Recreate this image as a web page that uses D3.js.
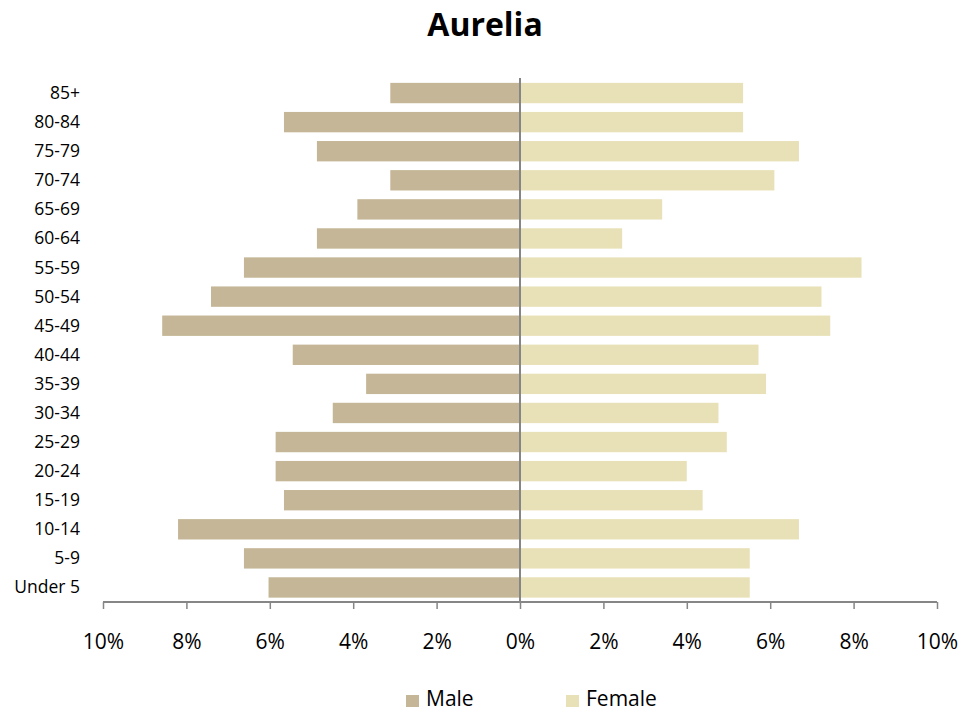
<!DOCTYPE html>
<html>
<head>
<meta charset="utf-8">
<script src="https://cdn.jsdelivr.net/npm/d3@7"></script>
<style>
  html, body { margin: 0; padding: 0; background: #fff; }
  svg { display: block; }
  text { font-family: "Open Sans", "DejaVu Sans", sans-serif; fill: #000; }
</style>
</head>
<body>
<svg id="chart" width="979" height="713"></svg>
<script>
const title = "Aurelia";
const categories = ["Under 5","5-9","10-14","15-19","20-24","25-29","30-34","35-39","40-44","45-49","50-54","55-59","60-64","65-69","70-74","75-79","80-84","85+"];
const maleValues   = [6.03, 6.62, 8.20, 5.66, 5.86, 5.86, 4.49, 3.69, 5.45, 8.58, 7.41, 6.62, 4.87, 3.90, 3.11, 4.87, 5.66, 3.11];
const femaleValues = [5.51, 5.51, 6.69, 4.38, 4.00, 4.96, 4.76, 5.90, 5.72, 7.44, 7.23, 8.19, 2.45, 3.41, 6.10, 6.69, 5.35, 5.35];
const xTicks = [-10, -8, -6, -4, -2, 0, 2, 4, 6, 8, 10];
const seriesNames = ["Male", "Female"];
const seriesColors = ["#C4B696", "#E8E1B8"];

const svg = d3.select("#chart");

const x = d3.scaleLinear().domain([-10, 10]).range([103, 937]);
const y = d3.scaleBand().domain(categories.slice().reverse()).range([78.5, 602]).paddingInner(0.3).paddingOuter(0.15);

// Title
svg.append("text")
  .attr("x", 485).attr("y", 36)
  .attr("text-anchor", "middle")
  .style("font-size", "32px").style("font-weight", "bold")
  .text(title);

// Bars
const rows = categories.map((c, i) => ({cat: c, m: maleValues[i], f: femaleValues[i]}));
svg.append("g").selectAll("rect").data(rows).join("rect")
  .attr("x", d => x(-d.m)).attr("width", d => x(0) - x(-d.m))
  .attr("y", d => y(d.cat)).attr("height", y.bandwidth())
  .attr("fill", seriesColors[0]);
svg.append("g").selectAll("rect").data(rows).join("rect")
  .attr("x", x(0)).attr("width", d => x(d.f) - x(0))
  .attr("y", d => y(d.cat)).attr("height", y.bandwidth())
  .attr("fill", seriesColors[1]);

// Category labels
svg.append("g").selectAll("text").data(categories).join("text")
  .attr("x", 80).attr("y", d => y(d) + y.bandwidth() / 2 + 6)
  .attr("text-anchor", "end")
  .style("font-size", "17.5px")
  .text(d => d);

// Center line
svg.append("line")
  .attr("x1", x(0)).attr("x2", x(0)).attr("y1", 78).attr("y2", 602)
  .attr("stroke", "#868686").attr("stroke-width", 2);

// X axis
const xAxis = d3.axisBottom(x).tickValues(xTicks).tickSize(7).tickFormat(d => Math.abs(d) + "%");
const gx = svg.append("g").attr("transform", "translate(0,602)").call(xAxis);
gx.select(".domain").attr("stroke", "#868686").attr("stroke-width", 2).attr("d", `M${x(-10)},0H${x(10)}`);
gx.selectAll(".tick line").attr("stroke", "#868686").attr("stroke-width", 1.5);
gx.selectAll(".tick text")
  .attr("y", 47).attr("dy", null)
  .style("font-size", "21px").style("font-family", "'Open Sans', sans-serif").attr("fill", "#000");

// Legend
const legendX = [406, 566];
const lg = svg.append("g").selectAll("g").data(seriesNames).join("g")
  .attr("transform", (d, i) => `translate(${legendX[i]},0)`);
lg.append("rect").attr("x", 0).attr("y", 695).attr("width", 13).attr("height", 12)
  .attr("fill", (d, i) => seriesColors[i]);
lg.append("text").attr("x", 20).attr("y", 706)
  .style("font-size", "21px").text(d => d);
</script>
</body>
</html>
